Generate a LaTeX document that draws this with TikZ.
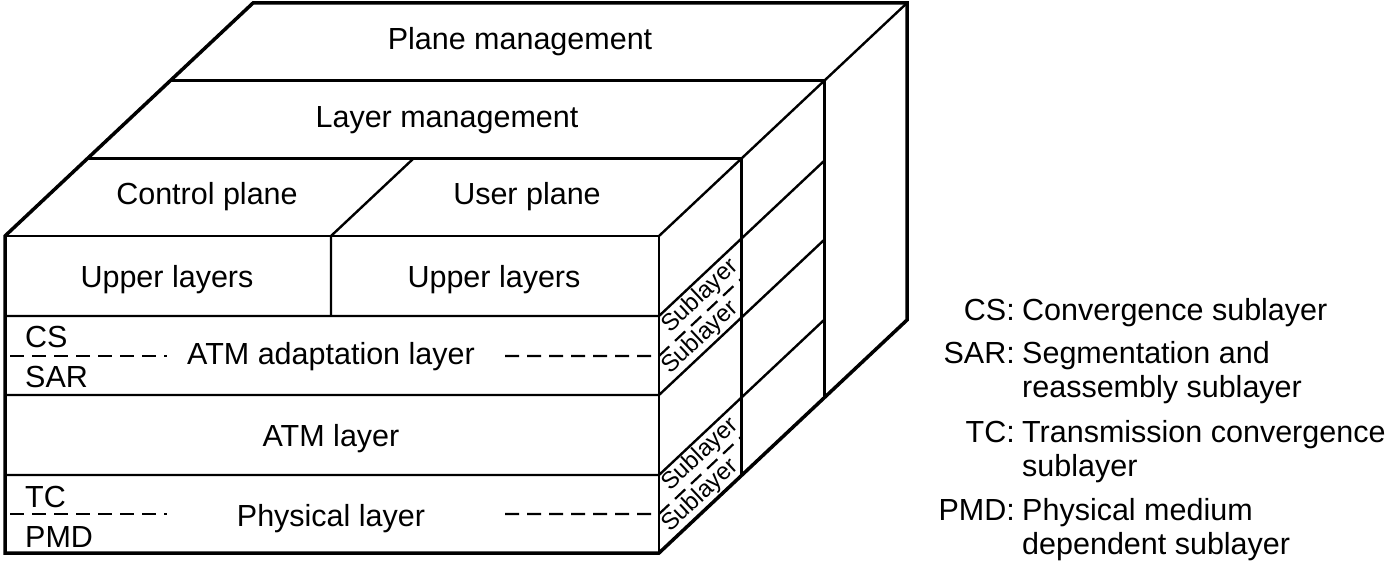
\documentclass[tikz,border=0pt]{standalone}
\usepackage{fontspec}
\setmainfont{Liberation Sans}
\begin{document}
\begin{tikzpicture}[x=1pt,y=-1pt,
  outer/.style={line width=3.5pt},
  inner/.style={line width=2.4pt},
  dashline/.style={line width=2.2pt, dash pattern=on 14pt off 8pt},
  lbl/.style={font=\fontsize{30.5}{36}\selectfont, inner sep=0pt, anchor=base},
  leftlbl/.style={lbl, anchor=base west},
  keylbl/.style={lbl, anchor=base east},
  keytxt/.style={lbl, anchor=base west},
  sub/.style={font=\fontsize{24}{28}\selectfont, inner sep=0pt, rotate=43.2}]
\useasboundingbox (0,0) rectangle (1397,564);
% corners
\coordinate (F1) at (5,236);
\coordinate (F2) at (659,236);
\coordinate (F3) at (659,553);
\coordinate (F4) at (5,553);
\coordinate (B1) at (253,3);
\coordinate (B2) at (907,3);
\coordinate (B3) at (907,320);
% slab 1 and 2 corners
\coordinate (S1L) at (87.67,158.33);
\coordinate (S1R) at (741.67,158.33);
\coordinate (S1B) at (741.67,475.33);
\coordinate (S2L) at (170.33,80.67);
\coordinate (S2R) at (824.33,80.67);
\coordinate (S2B) at (824.33,397.67);
% inner lines
\draw[inner] (F1) -- (F2) -- (F3);
\draw[inner] (F2) -- (B2);
\draw[inner] (S1L) -- (S1R) -- (S1B);
\draw[inner] (S2L) -- (S2R) -- (S2B);
% front layer lines
\coordinate (L1a) at (5,316);   \coordinate (L1b) at (659,316); \coordinate (L1c) at (824.33,160.67);
\coordinate (L2a) at (5,395);   \coordinate (L2b) at (659,395); \coordinate (L2c) at (824.33,239.67);
\coordinate (L3a) at (5,475);   \coordinate (L3b) at (659,475); \coordinate (L3c) at (824.33,319.67);
\draw[inner] (L1a) -- (L1b) -- (L1c);
\draw[inner] (L2a) -- (L2b) -- (L2c);
\draw[inner] (L3a) -- (L3b) -- (L3c);
% control/user divider
\coordinate (D1) at (331,316);
\coordinate (D2) at (331,236);
\coordinate (D3) at (413.67,158.33);
\draw[inner] (D1) -- (D2) -- (D3);
% dashed sublayer lines
\coordinate (A1) at (10,356);  \coordinate (A2) at (167,356);
\coordinate (A3) at (505,356); \coordinate (A4) at (659,356); \coordinate (A5) at (741.67,278.33);
\coordinate (P1) at (10,514);  \coordinate (P2) at (167,514);
\coordinate (P3) at (505,514); \coordinate (P4) at (659,514); \coordinate (P5) at (741.67,436.33);
\draw[dashline] (A1) -- (A2);
\draw[dashline] (A3) -- (A4) -- (A5);
\draw[dashline] (P1) -- (P2);
\draw[dashline] (P3) -- (P4) -- (P5);
% outer contour
\draw[outer] (F4) -- (F1) -- (B1) -- (B2) -- (B3) -- (F3) -- cycle;
% labels
\node[lbl] (pm) at (520,50) {Plane management};
\node[lbl] (lm) at (447,128) {Layer management};
\node[lbl] (cp) at (207,205) {Control plane};
\node[lbl] (up) at (527,205) {User plane};
\node[lbl] (ul1) at (167,287) {Upper layers};
\node[lbl] (ul2) at (494,287) {Upper layers};
\node[lbl] (aal) at (331,364) {ATM adaptation layer};
\node[lbl] (atm) at (331,446) {ATM layer};
\node[lbl] (phy) at (331,526) {Physical layer};
\node[leftlbl] (cs) at (25,347) {CS};
\node[leftlbl] (sar) at (25,387) {SAR};
\node[leftlbl] (tc) at (25,507) {TC};
\node[leftlbl] (pmd) at (25,547) {PMD};
% sublayer texts on the side face
\node[sub] (s1) at (700.3,296.2) {Sublayer};
\node[sub] (s2) at (700.3,337.7) {Sublayer};
\node[sub] (s3) at (700.3,454.7) {Sublayer};
\node[sub] (s4) at (700.3,495.7) {Sublayer};
% legend
\node[keylbl] (kcs) at (1015,320) {CS:};
\node[keytxt] (tcs) at (1022,320) {Convergence sublayer};
\node[keylbl] (ksar) at (1015,363) {SAR:};
\node[keytxt] (tsar) at (1022,363) {Segmentation and};
\node[keytxt] (tsar2) at (1022,397) {reassembly sublayer};
\node[keylbl] (ktc) at (1015,442) {TC:};
\node[keytxt] (ttc) at (1022,442) {Transmission convergence};
\node[keytxt] (ttc2) at (1022,476) {sublayer};
\node[keylbl] (kpmd) at (1015,520) {PMD:};
\node[keytxt] (tpmd) at (1022,520) {Physical medium};
\node[keytxt] (tpmd2) at (1022,554) {dependent sublayer};
\end{tikzpicture}
\end{document}
